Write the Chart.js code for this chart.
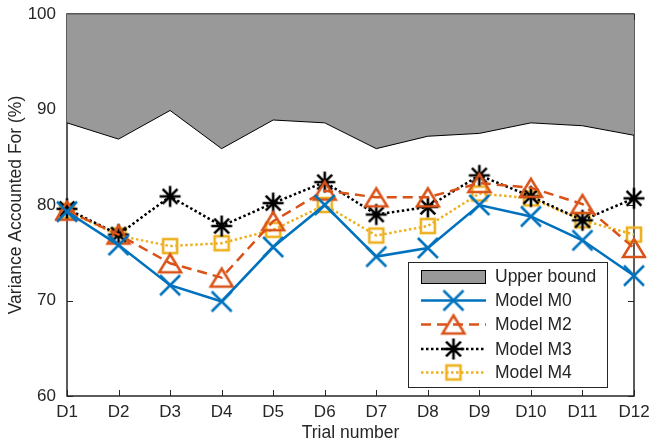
<!DOCTYPE html>
<html><head><meta charset="utf-8">
<script src="https://cdn.jsdelivr.net/npm/chart.js@4.4.0/dist/chart.umd.min.js"></script>
<style>html,body{margin:0;padding:0;background:#fff}</style>
</head><body>
<canvas id="c" width="652" height="444"></canvas>
<script>
const categories = ['D1','D2','D3','D4','D5','D6','D7','D8','D9','D10','D11','D12'];
const upperBound = [88.6, 86.9, 89.9, 85.9, 88.9, 88.6, 85.9, 87.2, 87.5, 88.6, 88.3, 87.3];
const modelM0 = [79.3, 75.8, 71.6, 69.9, 75.6, 80.0, 74.6, 75.5, 80.0, 78.8, 76.3, 72.6];
const modelM2 = [79.4, 76.9, 73.9, 72.4, 78.3, 81.5, 80.8, 80.8, 82.3, 81.8, 80.1, 75.5];
const modelM3 = [79.6, 76.9, 80.9, 77.8, 80.2, 82.4, 79.0, 79.8, 83.1, 80.9, 78.4, 80.7];
const modelM4 = [79.4, 76.8, 75.7, 76.0, 77.4, 80.0, 76.8, 77.8, 81.2, 80.7, 78.4, 76.9];
const yTicks = [60, 70, 80, 90, 100];

const FONT = "'Liberation Sans', Arial, Helvetica, sans-serif";
const TXT = '#262626';
const C0 = '#0072BD', C2 = '#D95319', C3 = '#000000', C4 = '#EDB120';

function mk(w, h, fn) {
  const cv = document.createElement('canvas');
  cv.width = w; cv.height = h;
  const g = cv.getContext('2d');
  fn(g, w, h);
  return cv;
}
const markX = mk(24, 24, (g) => {
  g.strokeStyle = C0; g.lineWidth = 2.5;
  g.beginPath(); g.moveTo(2, 2); g.lineTo(22, 22); g.moveTo(22, 2); g.lineTo(2, 22); g.stroke();
});
const markTri = mk(28, 24, (g) => {
  g.strokeStyle = C2; g.lineWidth = 2.5; g.lineJoin = 'miter';
  g.beginPath(); g.moveTo(14, 3); g.lineTo(25, 21); g.lineTo(3, 21); g.closePath(); g.stroke();
});
const markStar = mk(24, 24, (g) => {
  g.strokeStyle = C3; g.lineWidth = 2.6;
  const r = 10.5, cx = 12, cy = 12, d = r * Math.SQRT1_2;
  g.beginPath();
  g.moveTo(cx - r, cy); g.lineTo(cx + r, cy);
  g.moveTo(cx, cy - r); g.lineTo(cx, cy + r);
  g.moveTo(cx - d, cy - d); g.lineTo(cx + d, cy + d);
  g.moveTo(cx + d, cy - d); g.lineTo(cx - d, cy + d);
  g.stroke();
});
const markSq = mk(22, 22, (g) => {
  g.strokeStyle = C4; g.lineWidth = 2.6;
  g.strokeRect(4, 4, 14, 14);
});

function series(label, data, color, dash, marker) {
  return {
    label, data, borderColor: color, borderWidth: 2.5, borderDash: dash,
    borderCapStyle: 'butt', fill: false, tension: 0,
    pointStyle: marker, pointRadius: 10, pointHoverRadius: 10,
    pointBorderColor: color, pointBackgroundColor: 'rgba(0,0,0,0)',
    _legendMarker: marker
  };
}

const axesPlugin = {
  id: 'matlabAxes',
  beforeDatasetsDraw(chart) {
    const {ctx, chartArea: a, scales} = chart;
    ctx.save();
    ctx.strokeStyle = TXT; ctx.lineWidth = 1;
    ctx.beginPath();
    scales.x.ticks.forEach((t, i) => {
      const x = Math.round(scales.x.getPixelForTick(i)) + 0.5;
      ctx.moveTo(x, a.bottom); ctx.lineTo(x, a.bottom - 6);
      ctx.moveTo(x, a.top); ctx.lineTo(x, a.top + 6);
    });
    yTicks.forEach(v => {
      const y = Math.round(scales.y.getPixelForValue(v)) + 0.5;
      ctx.moveTo(a.left, y); ctx.lineTo(a.left + 6, y);
      ctx.moveTo(a.right, y); ctx.lineTo(a.right - 6, y);
    });
    ctx.stroke();
    ctx.lineWidth = 1.5;
    ctx.strokeStyle = '#262626';
    ctx.strokeRect(a.left, a.top, a.right - a.left, a.bottom - a.top);
    ctx.restore();
  },
  afterDatasetsDraw(chart) {
    const {ctx, chartArea: a} = chart;
    ctx.save();
    ctx.strokeStyle = '#555';
    ctx.lineWidth = 1.2;
    ctx.beginPath(); ctx.moveTo(a.left, a.top); ctx.lineTo(a.right, a.top); ctx.stroke();
    ctx.restore();
  },
  afterDraw(chart) {
    const ctx = chart.ctx;
    const bx = 408, by = 262, bw = 199, bh = 125;
    ctx.save();
    ctx.fillStyle = '#fff';
    ctx.fillRect(bx, by, bw, bh);
    ctx.strokeStyle = '#262626'; ctx.lineWidth = 1;
    ctx.strokeRect(bx + 0.5, by + 0.5, bw, bh);
    const rows = [276.5, 300.5, 324.5, 349, 372.5];
    const x0 = 421, x1 = 486, xm = 453.5;
    ctx.font = '17.5px ' + FONT;
    ctx.fillStyle = TXT;
    ctx.textBaseline = 'middle';
    ctx.textAlign = 'left';
    chart.data.datasets.forEach((ds, i) => {
      const y = rows[i];
      if (i === 0) {
        ctx.fillStyle = '#999999';
        ctx.fillRect(x0, y - 6.5, x1 - x0, 13);
        ctx.strokeStyle = '#000'; ctx.lineWidth = 1;
        ctx.strokeRect(x0 + 0.5, y - 6.5 + 0.5, x1 - x0 - 1, 13);
      } else {
        ctx.strokeStyle = ds.borderColor; ctx.lineWidth = ds.borderWidth;
        ctx.setLineDash(ds.borderDash || []);
        ctx.beginPath(); ctx.moveTo(x0, y); ctx.lineTo(x1, y); ctx.stroke();
        ctx.setLineDash([]);
        const m = ds._legendMarker;
        ctx.drawImage(m, xm - m.width / 2, y - m.height / 2);
      }
      ctx.fillStyle = TXT;
      ctx.fillText(ds.label, 495, y + 1);
    });
    ctx.restore();
  }
};

new Chart(document.getElementById('c'), {
  type: 'line',
  data: {
    labels: categories,
    datasets: [
      { label: 'Upper bound', data: upperBound, borderColor: '#000', borderWidth: 1,
        backgroundColor: '#999999', fill: 'end', pointRadius: 0, tension: 0 },
      series('Model M0', modelM0, C0, [], markX),
      series('Model M2', modelM2, C2, [10, 6], markTri),
      series('Model M3', modelM3, C3, [2.5, 2.5], markStar),
      series('Model M4', modelM4, C4, [2.5, 2.5], markSq)
    ]
  },
  options: {
    responsive: false, animation: false, devicePixelRatio: 1,
    layout: { padding: { top: 14, right: 18, left: 0, bottom: 0 } },
    plugins: { legend: { display: false }, tooltip: { enabled: false } },
    scales: {
      x: {
        offset: false,
        grid: { display: false, drawTicks: false },
        border: { display: false },
        ticks: { color: TXT, font: { family: FONT, size: 17 }, padding: 6, maxRotation: 0, autoSkip: false },
        title: { display: true, text: 'Trial number', color: TXT, font: { family: FONT, size: 17.5 }, padding: { top: 0, bottom: 0 } },
        afterFit(s) { s.height = 48; s.paddingLeft = 0; s.paddingRight = 0; }
      },
      y: {
        min: 60, max: 100,
        grid: { display: false, drawTicks: false },
        border: { display: false },
        afterBuildTicks(s) { s.ticks = yTicks.map(v => ({ value: v })); },
        ticks: { color: TXT, font: { family: FONT, size: 17 }, padding: 11 },
        title: { display: true, text: 'Variance Accounted For (%)', color: TXT, font: { family: FONT, size: 17.5 }, padding: { top: 6, bottom: 0 } },
        afterFit(s) { s.width = 67; s.paddingTop = 0; s.paddingBottom = 0; }
      }
    }
  },
  plugins: [axesPlugin]
});
</script>
</body></html>
